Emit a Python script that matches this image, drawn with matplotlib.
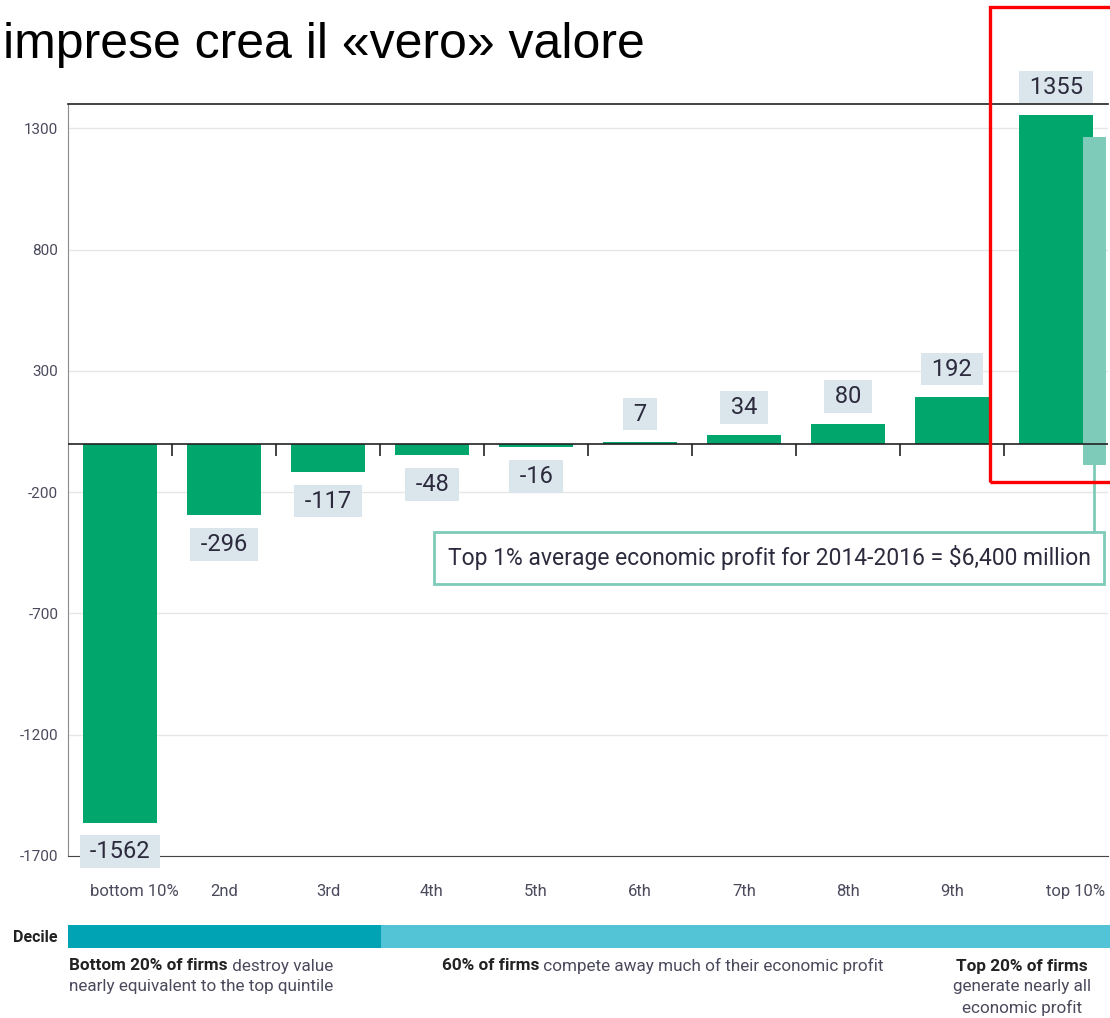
import matplotlib.pyplot as plt
from matplotlib.patches import Rectangle
from matplotlib.transforms import ScaledTranslation

deciles = ["bottom 10%", "2nd", "3rd", "4th", "5th", "6th", "7th", "8th", "9th", "top 10%"]
profit = [-1562, -296, -117, -48, -16, 7, 34, 80, 192, 1355]
yticks = [1300, 800, 300, -200, -700, -1200, -1700]
top1_height = 1355
top1_bottom = -90
decile_spans = [3, 7]
decile_colors = ["#00a3b4", "#53c3d6"]

W, H = 1110, 1018
plt.rcParams['font.family'] = ['Roboto', 'DejaVu Sans']

fig = plt.figure(figsize=(W / 100, H / 100), dpi=100)
ax = fig.add_axes([68 / W, 1 - 856 / H, 1040 / W, 752 / H])

pos = list(range(len(profit)))
ax.bar(pos, profit, width=0.71, color='#00a66b', zorder=3)
# shadow bar for the top 1%
ax.bar(9.37, top1_height, bottom=top1_bottom, width=0.22, color='#7fcbb9', zorder=4)
ax.plot([9.37, 9.37], [top1_bottom, -355], color='#7fcbb9', lw=2, zorder=4, clip_on=False)

ax.set_xlim(-0.5, 9.5)
ax.set_ylim(-1700, 1400)
ax.set_yticks(yticks)
ax.set_yticklabels([str(v) for v in yticks], fontsize=11, color='#4a4a5c')
ax.tick_params(axis='y', length=0, pad=7)
ax.set_xticks(pos)
ax.set_xticklabels(deciles, fontsize=12, color='#4a4a5c')
ax.tick_params(axis='x', length=0, pad=20)
xl = ax.get_xticklabels()
xl[0].set_transform(xl[0].get_transform() + ScaledTranslation(0.14, 0, fig.dpi_scale_trans))
xl[-1].set_transform(xl[-1].get_transform() + ScaledTranslation(0.2, 0, fig.dpi_scale_trans))
ax.grid(axis='y', color='#e6e6e6', lw=1, zorder=0)

ax.spines['right'].set_visible(False)
ax.spines['left'].set_color('#8a8a8a')
ax.spines['top'].set_color('#222222')
ax.spines['bottom'].set_color('#444444')
ax.spines['top'].set_linewidth(1.2)

ax.axhline(0, color='#222222', lw=1.2, zorder=5)
ax.vlines([p + 0.5 for p in pos[:-1]], -50, 0, color='#222222', lw=1.2, zorder=5)

for p, v in zip(pos, profit):
    off = 20 if v > 0 else -21
    ax.annotate(f" {v} ", (p, v), xytext=(0, off), textcoords='offset points',
                ha='center', va='center', fontsize=17, color='#2b2b3d', zorder=6,
                annotation_clip=False,
                bbox=dict(boxstyle='square,pad=0.2', fc='#dbe5ec', ec='none'))

ax.text(6.24, -471, "Top 1% average economic profit for 2014-2016 = $6,400 million",
        ha='center', va='center', fontsize=16.5, color='#2b2b3d', zorder=6,
        bbox=dict(boxstyle='square,pad=0.6', fc='white', ec='#7fcbb9', lw=2))

# decile strip
bx = fig.add_axes([68 / W, 1 - 948 / H, 1042 / W, 23 / H])
left = 0
for span, c in zip(decile_spans, decile_colors):
    bx.barh(0, span, left=left, height=1, color=c)
    left += span
bx.set_xlim(0, 10)
bx.set_ylim(-0.5, 0.5)
bx.axis('off')
fig.text(58 / W, 1 - 937 / H, "Decile", ha='right', va='center', fontsize=11.5,
         fontweight='bold', color='#222222')

FS = 12.3

def mixed(x, y, bold, rest):
    t = fig.text(x / W, 1 - y / H, bold, ha='left', va='center', fontsize=FS,
                 fontweight='bold', color='#222222')
    fig.add_artist(plt.Annotation(rest, xy=(1, 0.5), xycoords=t, va='center', ha='left',
                                  fontsize=FS, color='#4a4a5c', annotation_clip=False))

mixed(69, 966, "Bottom 20% of firms", " destroy value")
fig.text(69 / W, 1 - 987 / H, "nearly equivalent to the top quintile", ha='left', va='center',
         fontsize=FS, color='#4a4a5c')
mixed(442, 966, "60% of firms", " compete away much of their economic profit")
fig.text(1022 / W, 1 - 966 / H, "Top 20% of firms", ha='center', va='center', fontsize=FS,
         fontweight='bold', color='#222222')
fig.text(1022 / W, 1 - 987 / H, "generate nearly all", ha='center', va='center', fontsize=FS,
         color='#4a4a5c')
fig.text(1022 / W, 1 - 1008 / H, "economic profit", ha='center', va='center', fontsize=FS,
         color='#4a4a5c')

fig.text(3 / W, 1 - 58 / H, "imprese crea il «vero» valore", ha='left', va='baseline',
         fontsize=36, family='Liberation Sans', color='black')

fig.patches.append(Rectangle((990 / W, 1 - 482 / H), 0.2, 475 / H, transform=fig.transFigure,
                             fill=False, ec='#ff0000', lw=2.4, zorder=10))

fig.savefig('out.png', dpi=100)
